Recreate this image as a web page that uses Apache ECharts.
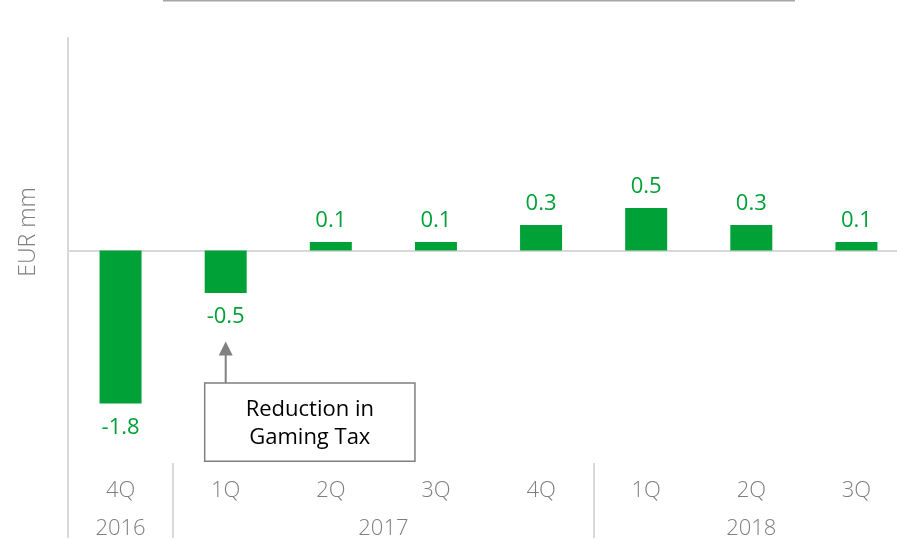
<!DOCTYPE html>
<html>
<head>
<meta charset="utf-8">
<script src="https://cdn.jsdelivr.net/npm/echarts@6/dist/echarts.min.js"></script>
<style>
  html, body { margin: 0; padding: 0; background: #ffffff; overflow: hidden; }
  /* the last category band runs past the right edge of the page */
  #chart { width: 910px; height: 540px; }
</style>
</head>
<body>
<div id="chart"></div>
<script>
// Quarterly impact, EUR mm
const quarters = ['4Q', '1Q', '2Q', '3Q', '4Q', '1Q', '2Q', '3Q'];
const years = ['2016', '2017', '2018'];
const quartersPerYear = [1, 4, 3];
const values = [-1.8, -0.5, 0.1, 0.1, 0.3, 0.5, 0.3, 0.1];
const yAxisTitle = 'EUR mm';
const noteText = 'Reduction in\nGaming Tax';
const noteIndex = 1;

const GREEN = '#00A238';
const GREY_TEXT = '#7f7f7f';
const LINE = '#d9d9d9';
const FONT = '"Open Sans", "Noto Sans", sans-serif';

// one unique key per bar, quarter label shown on the axis
const categories = [];
{
  let k = 0;
  years.forEach((y, gi) => {
    for (let j = 0; j < quartersPerYear[gi]; j++) {
      categories.push(quarters[k] + ' ' + y);
      k++;
    }
  });
}

// year label centres and group boundaries in category units
const yearCenters = [];
const groupEdges = [-0.5];
{
  let start = 0;
  quartersPerYear.forEach(n => {
    yearCenters.push(start + (n - 1) / 2);
    start += n;
    if (start < categories.length) groupEdges.push(start - 0.5);
  });
}

const chart = echarts.init(document.getElementById('chart'), null, { renderer: 'canvas' });

const option = {
  animation: false,
  backgroundColor: '#ffffff',
  grid: { left: 68, right: 1, top: 38, bottom: 75 },
  xAxis: [
    {
      type: 'category',
      data: categories,
      position: 'bottom',
      axisLine: { show: false, onZero: false },
      axisTick: { show: false },
      splitLine: { show: false },
      axisLabel: {
        margin: 17,
        color: GREY_TEXT,
        fontFamily: FONT,
        fontWeight: 300,
        fontSize: 22,
        formatter: (v, i) => quarters[i]
      }
    },
    {
      type: 'value',
      min: -0.5,
      max: categories.length - 0.5,
      position: 'bottom',
      axisLine: { show: false, onZero: false },
      splitLine: { show: false },
      axisTick: {
        show: true,
        customValues: groupEdges,
        length: 75,
        lineStyle: { color: LINE, width: 2 }
      },
      axisLabel: {
        customValues: yearCenters,
        margin: 55,
        color: GREY_TEXT,
        fontFamily: FONT,
        fontWeight: 300,
        fontSize: 22,
        formatter: v => {
          const i = yearCenters.findIndex(c => Math.abs(c - v) < 1e-6);
          return i >= 0 ? years[i] : '';
        }
      }
    },
    {
      // zero line
      type: 'category',
      data: categories,
      axisLine: { show: true, onZero: true, lineStyle: { color: LINE, width: 2 } },
      axisTick: { show: false },
      axisLabel: { show: false },
      splitLine: { show: false }
    }
  ],
  yAxis: {
    type: 'value',
    min: -2.5,
    max: 2.5,
    axisLine: { show: true, onZero: false, lineStyle: { color: LINE, width: 2 } },
    axisTick: { show: false },
    axisLabel: { show: false },
    splitLine: { show: false }
  },
  series: [{
    type: 'bar',
    xAxisIndex: 0,
    yAxisIndex: 0,
    // negative bars carry their label underneath
    data: values.map(v => ({
      value: v,
      label: v < 0 ? { position: 'bottom', distance: 13 } : { position: 'top', distance: 10 }
    })),
    barWidth: 42,
    itemStyle: { color: GREEN },
    z: 3,
    label: {
      show: true,
      color: GREEN,
      fontFamily: FONT,
      fontSize: 22,
      formatter: p => p.value.toFixed(1)
    }
  }]
};

chart.setOption(option);

// annotation pointing at the tax-reduction quarter
const barX = chart.convertToPixel({ xAxisIndex: 0 }, categories[noteIndex]);
const band = chart.convertToPixel({ xAxisIndex: 0 }, categories[noteIndex + 1]) - barX;
const yPix = v => chart.convertToPixel({ yAxisIndex: 0 }, v);
const boxLeft = barX - 21;
const boxTop = yPix(-1.56);
const boxBottom = yPix(-2.48);
const arrowTip = yPix(-1.07);

chart.setOption({
  graphic: [
    {
      type: 'line',
      shape: { x1: 163, y1: 0.5, x2: 795, y2: 0.5 },
      style: { stroke: '#a6a6a6', lineWidth: 2 }
    },
    {
      type: 'text',
      x: 28, y: 232,
      rotation: Math.PI / 2,
      style: {
        text: yAxisTitle,
        fill: GREY_TEXT,
        font: '300 23px ' + FONT,
        align: 'center',
        verticalAlign: 'middle'
      }
    },
    {
      type: 'rect',
      shape: { x: boxLeft, y: boxTop, width: band * 2, height: boxBottom - boxTop },
      style: { fill: '#ffffff', stroke: '#7f7f7f', lineWidth: 1.5 },
      z: 10
    },
    {
      type: 'text',
      x: boxLeft + band, y: (boxTop + boxBottom) / 2 + 2,
      style: {
        text: noteText,
        fill: '#000000',
        font: '22px ' + FONT,
        align: 'center',
        verticalAlign: 'middle',
        lineHeight: 28
      },
      z: 11
    },
    {
      type: 'line',
      shape: { x1: barX, y1: boxTop, x2: barX, y2: arrowTip + 12 },
      style: { stroke: '#808080', lineWidth: 2 },
      z: 10
    },
    {
      type: 'polygon',
      shape: { points: [[barX, arrowTip], [barX - 7, arrowTip + 14], [barX + 7, arrowTip + 14]] },
      style: { fill: '#808080' },
      z: 10
    }
  ]
});
</script>
</body>
</html>
